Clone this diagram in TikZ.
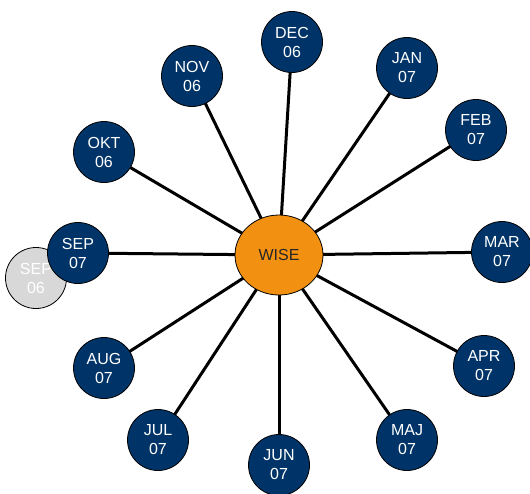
\documentclass[tikz,border=0pt]{standalone}
\usepackage{fontspec}
\setmainfont{Liberation Sans}
\definecolor{navy}{RGB}{0,52,104}
\definecolor{wiseorange}{RGB}{242,145,17}
\definecolor{lightgrey}{RGB}{216,216,216}
\tikzset{
  month/.style={circle, draw=black, line width=0.8pt, fill=navy, text=white,
    minimum size=61pt, inner sep=0pt, align=center,
    font=\fontsize{16}{19}\selectfont},
  oldmonth/.style={month, fill=lightgrey},
  hub/.style={ellipse, draw=black, line width=0.8pt, fill=wiseorange, text=black!85,
    minimum width=88pt, minimum height=80pt, inner sep=0pt,
    font=\fontsize{16}{19}\selectfont},
  spoke/.style={line width=3pt, black}
}
\usetikzlibrary{shapes.geometric}
\begin{document}
\begin{tikzpicture}[x=1pt,y=-1pt]
\useasboundingbox (0,0) rectangle (530,493);
% hub coordinate
\coordinate (c) at (279,255);
% month nodes positions
\coordinate (pdec) at (292,42);
\coordinate (pjan) at (407,68);
\coordinate (pfeb) at (476,130);
\coordinate (pmar) at (502,252);
\coordinate (papr) at (484,366);
\coordinate (pmaj) at (407,440);
\coordinate (pjun) at (279,465);
\coordinate (pjul) at (158,440);
\coordinate (paug) at (104,368);
\coordinate (psep) at (78,253);
\coordinate (pokt) at (104,152);
\coordinate (pnov) at (192,76);
% spokes (drawn first, behind nodes)
\foreach \p in {pdec,pjan,pfeb,pmar,papr,pmaj,pjun,pjul,paug,psep,pokt,pnov}
  \draw[spoke] (c) -- (\p);
% old september
\node[oldmonth] (sep06) at (36,278) {SEP\\06};
% month nodes
\node[month] (dec) at (pdec) {DEC\\06};
\node[month] (jan) at (pjan) {JAN\\07};
\node[month] (feb) at (pfeb) {FEB\\07};
\node[month] (mar) at (pmar) {MAR\\07};
\node[month] (apr) at (papr) {APR\\07};
\node[month] (maj) at (pmaj) {MAJ\\07};
\node[month] (jun) at (pjun) {JUN\\07};
\node[month] (jul) at (pjul) {JUL\\07};
\node[month] (aug) at (paug) {AUG\\07};
\node[month] (sep) at (psep) {SEP\\07};
\node[month] (okt) at (pokt) {OKT\\06};
\node[month] (nov) at (pnov) {NOV\\06};
\node[hub] (wise) at (c) {WISE};
\end{tikzpicture}
\end{document}
